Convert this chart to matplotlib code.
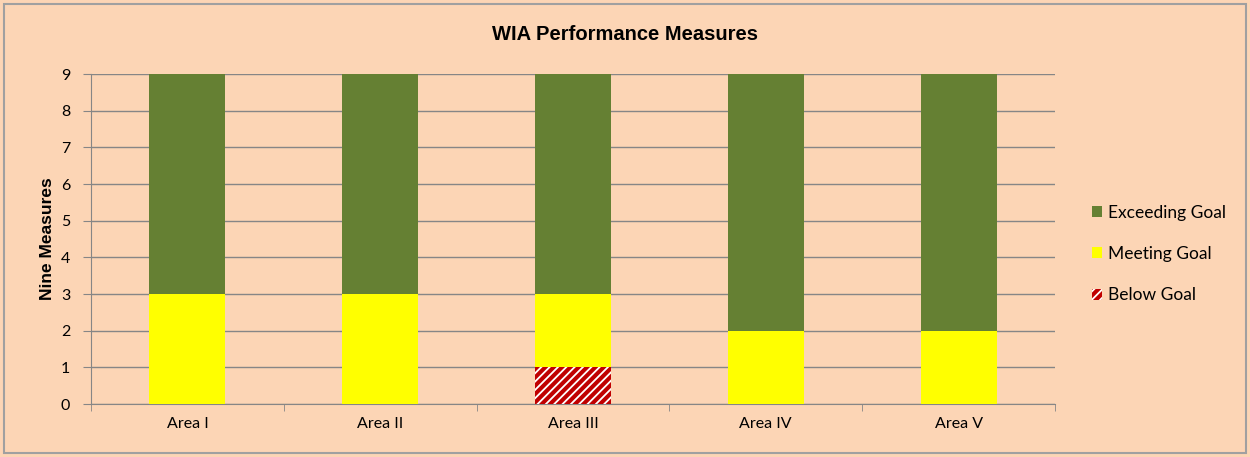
import matplotlib
matplotlib.use("Agg")
import matplotlib.pyplot as plt
from matplotlib.patches import Rectangle, Patch
import numpy as np

categories = ["Area I", "Area II", "Area III", "Area IV", "Area V"]
below_goal = [0, 0, 1, 0, 0]
meeting_goal = [3, 3, 2, 2, 2]
exceeding_goal = [6, 6, 6, 7, 7]
yticks = list(range(0, 10))

bg = "#FCD5B5"
green = "#658033"
yellow = "#FFFF00"
red = "#C00000"
grid = "#868686"

plt.rcParams['hatch.linewidth'] = 1.3
plt.rcParams['font.family'] = ['Lato', 'DejaVu Sans']

fig = plt.figure(figsize=(12.5, 4.57), dpi=100, facecolor=bg)
ax = fig.add_axes([91/1250, 1-404/457, (1055-91)/1250, (404-74)/457])
ax.set_facecolor(bg)

x = np.arange(len(categories))
w = 0.395
b = np.array(below_goal)
m = np.array(meeting_goal)
e = np.array(exceeding_goal)
ax.bar(x, b, w, color=red, edgecolor="white", linewidth=0, hatch="////", zorder=3)
ax.bar(x, m, w, bottom=b, color=yellow, linewidth=0, zorder=3)
ax.bar(x, e, w, bottom=b + m, color=green, linewidth=0, zorder=3)

ax.set_xlim(-0.5, len(categories) - 0.5)
ax.set_ylim(0, 9)
ax.set_yticks(yticks)
ax.set_yticklabels([str(t) for t in yticks], fontsize=11.5)
ax.yaxis.grid(True, color=grid, linewidth=1)
ax.set_axisbelow(True)
ax.set_xticks(x)
ax.set_xticklabels(categories, fontsize=11.5)
ax.set_xticks(np.arange(len(categories) + 1) - 0.5, minor=True)
ax.tick_params(axis="x", which="major", length=0, pad=9)
ax.tick_params(axis="x", which="minor", length=5, color=grid, direction="out")
ax.tick_params(axis="y", length=6, color=grid, direction="out", pad=9)
for s in ["top", "right"]:
    ax.spines[s].set_visible(False)
ax.spines["left"].set_color(grid)
ax.spines["bottom"].set_color(grid)

ax.set_ylabel("Nine Measures", fontsize=12.5, fontweight="bold",
              family="Liberation Sans", labelpad=4)
fig.text(0.5, 1 - 34/457, "WIA Performance Measures", ha="center", va="center",
         fontsize=14.5, fontweight="bold", family="Liberation Sans")

handles = [Patch(facecolor=green, label="Exceeding Goal"),
           Patch(facecolor=yellow, label="Meeting Goal"),
           Patch(facecolor=red, edgecolor="white", hatch="////", linewidth=0, label="Below Goal")]
leg = fig.legend(handles=handles, loc="center left", bbox_to_anchor=(1076/1250, 1-254/457),
                 frameon=False, fontsize=12.5, handlelength=0.6, handleheight=0.6,
                 handletextpad=0.35, labelspacing=1.45)

fig.add_artist(Rectangle((4/1250, 4/457), 1242/1250, 449/457, transform=fig.transFigure,
                         fill=False, edgecolor="#A0A0A0", linewidth=1.5))

fig.savefig("out.png", dpi=100, facecolor=bg)
